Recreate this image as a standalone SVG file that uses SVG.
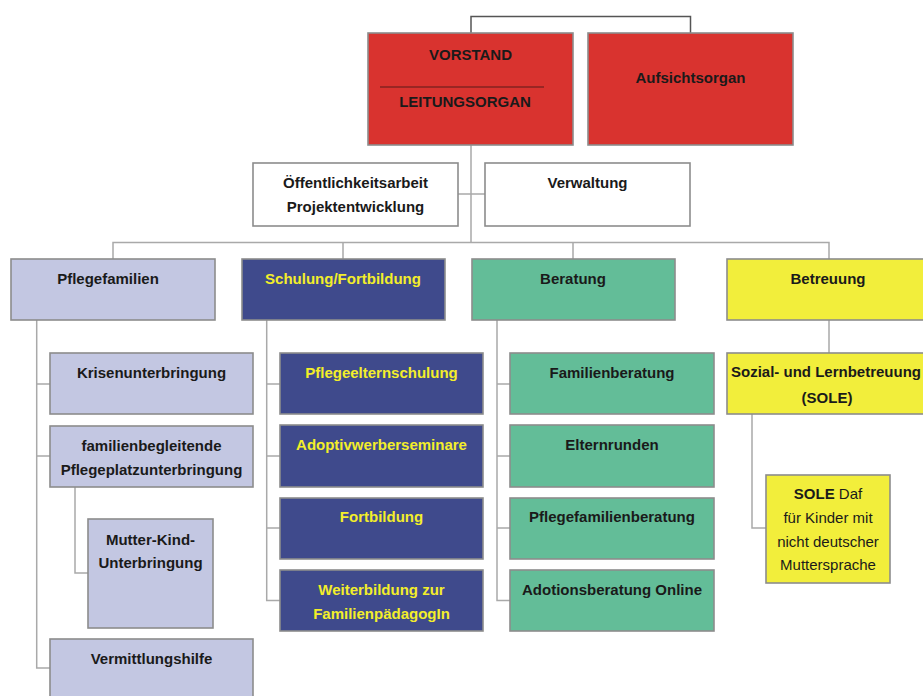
<svg xmlns="http://www.w3.org/2000/svg" width="923" height="696" viewBox="0 0 923 696">
<style>
.b{stroke:#8c8c8c;stroke-width:1.6}
.red{fill:#d9332f}.wh{fill:#ffffff}.lav{fill:#c3c7e2}.nav{fill:#3f4a8c}.grn{fill:#63bd98}.yel{fill:#f2ee3b}
text{font-family:"Liberation Sans",Arial,sans-serif;font-size:15px;font-weight:bold;text-anchor:middle;fill:#1a1a1a}
text.y{fill:#f3ee2a}
text.n{font-weight:normal}
.c{fill:none;stroke:#a9a9a9;stroke-width:1.5}
.cd{fill:none;stroke:#555;stroke-width:1.5}
</style>
<rect width="923" height="696" fill="#fff"/>
<g id="connectors">
<path class="cd" d="M471,33V16.5H690.5V33"/>
<path class="c" d="M471,145V242.5M458,194H485M113,259V242.5H829V259M343,242.5V259M573,242.5V259"/>
<path class="c" d="M36.7,320V668H50M36.7,384H50M36.7,456H50M75,487V573H88"/>
<path class="c" d="M266.7,320V600.5H280M266.7,384H280M266.7,456H280M266.7,528H280"/>
<path class="c" d="M497,320V600.5H510M497,384H510M497,456H510M497,528H510"/>
<path class="c" d="M829,320V353M752,414V528H766"/>
</g>
<g id="vorstand"><rect class="b red" x="368" y="33" width="205" height="112"/><text x="470.5" y="60">VORSTAND</text><line x1="380" y1="87" x2="544" y2="87" stroke="#5a1a18" stroke-width="1.2"/><text x="465" y="107">LEITUNGSORGAN</text></g>
<g id="aufsichtsorgan"><rect class="b red" x="588" y="33" width="205" height="112"/><text x="690.5" y="83">Aufsichtsorgan</text></g>
<g id="oeffentlichkeitsarbeit"><rect class="b wh" x="253" y="163" width="205" height="63"/><text x="355.5" y="188">Öffentlichkeitsarbeit</text><text x="355.5" y="212">Projektentwicklung</text></g>
<g id="verwaltung"><rect class="b wh" x="485" y="163" width="205" height="63"/><text x="587.5" y="188">Verwaltung</text></g>
<g id="pflegefamilien"><rect class="b lav" x="11" y="259" width="204" height="61"/><text x="108" y="284">Pflegefamilien</text></g>
<g id="schulung"><rect class="b nav" x="242" y="259" width="203" height="61"/><text class="y" x="343" y="284">Schulung/Fortbildung</text></g>
<g id="beratung"><rect class="b grn" x="472" y="259" width="203" height="61"/><text x="573" y="284">Beratung</text></g>
<g id="betreuung"><rect class="b yel" x="727" y="259" width="203" height="61"/><text x="828" y="284">Betreuung</text></g>
<g id="krisenunterbringung"><rect class="b lav" x="50" y="353" width="203" height="61"/><text x="151.5" y="377.5">Krisenunterbringung</text></g>
<g id="familienbegleitende"><rect class="b lav" x="50" y="426" width="203" height="61"/><text x="151.5" y="451">familienbegleitende</text><text x="151.5" y="475">Pflegeplatzunterbringung</text></g>
<g id="mutter-kind"><rect class="b lav" x="88" y="519" width="125" height="109"/><text x="150.5" y="545">Mutter-Kind-</text><text x="150.5" y="568">Unterbringung</text></g>
<g id="vermittlungshilfe"><rect class="b lav" x="50" y="639" width="203" height="61"/><text x="151.5" y="664">Vermittlungshilfe</text></g>
<g id="pflegeelternschulung"><rect class="b nav" x="280" y="353" width="203" height="61"/><text class="y" x="381.5" y="377.5">Pflegeelternschulung</text></g>
<g id="adoptivwerberseminare"><rect class="b nav" x="280" y="425" width="203" height="62"/><text class="y" x="381.5" y="450">Adoptivwerberseminare</text></g>
<g id="fortbildung"><rect class="b nav" x="280" y="498" width="203" height="61"/><text class="y" x="381.5" y="522">Fortbildung</text></g>
<g id="weiterbildung"><rect class="b nav" x="280" y="570" width="203" height="61"/><text class="y" x="381.5" y="595">Weiterbildung zur</text><text class="y" x="381.5" y="618.5">FamilienpädagogIn</text></g>
<g id="familienberatung"><rect class="b grn" x="510" y="353" width="204" height="61"/><text x="612" y="377.5">Familienberatung</text></g>
<g id="elternrunden"><rect class="b grn" x="510" y="425" width="204" height="62"/><text x="612" y="450">Elternrunden</text></g>
<g id="pflegefamilienberatung"><rect class="b grn" x="510" y="498" width="204" height="61"/><text x="612" y="522">Pflegefamilienberatung</text></g>
<g id="adoptionsberatung"><rect class="b grn" x="510" y="570" width="204" height="61"/><text x="612" y="594.5">Adotionsberatung Online</text></g>
<g id="sole"><rect class="b yel" x="727" y="353" width="203" height="61"/><text x="826" y="377">Sozial- und Lernbetreuung</text><text x="827" y="403">(SOLE)</text></g>
<g id="sole-daf"><rect class="b yel" x="766" y="475" width="124" height="108"/><text class="n" x="828" y="499"><tspan font-weight="bold">SOLE</tspan> Daf</text><text class="n" x="828" y="523">für Kinder mit</text><text class="n" x="828" y="547">nicht deutscher</text><text class="n" x="828" y="570">Muttersprache</text></g>
</svg>
